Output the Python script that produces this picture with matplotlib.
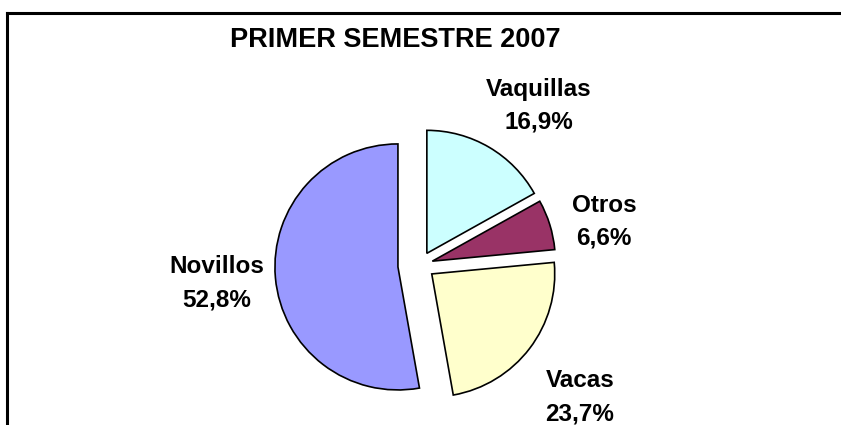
import matplotlib.pyplot as plt
from matplotlib.lines import Line2D

# data (clockwise from 12 o'clock)
categories = ["Vaquillas", "Otros", "Vacas", "Novillos"]
shares = [16.9, 6.6, 23.7, 52.8]
colors = ["#CCFFFF", "#993366", "#FFFFCC", "#9999FF"]
explode = [0.11, 0.105, 0.12, 0.18]

title = "PRIMER SEMESTRE 2007"

# figure is laid out in pixels (841 x 425 at 100 dpi)
W, H = 841, 425
cx, cy, r = 420, 265, 123
# label anchor (x centre, baseline of first line) in pixels from top-left
label_pos = {
    "Vaquillas": (539, 96),
    "Otros": (604, 212),
    "Vacas": (580, 387),
    "Novillos": (217, 273),
}
line_gap = 33

plt.rcParams["font.family"] = ["Liberation Sans", "DejaVu Sans"]

fig = plt.figure(figsize=(W / 100, H / 100), dpi=100)
ax = fig.add_axes([0, 0, 1, 1])

ax.pie(shares, colors=colors, explode=explode, startangle=90, counterclock=False,
       radius=1, center=(0, 0),
       wedgeprops=dict(edgecolor="black", linewidth=1.2))
ax.set_xlim(-cx / r, (W - cx) / r)
ax.set_ylim(-(H - cy) / r, cy / r)
ax.set_aspect("auto")
ax.axis("off")


def px(x, y):
    return x / W, 1 - y / H


for name, value in zip(categories, shares):
    x, y = label_pos[name]
    pct = f"{value:.1f}".replace(".", ",") + "%"
    fig.text(*px(x, y), name, ha="center", va="baseline", fontsize=17.5, fontweight="bold")
    fig.text(*px(x, y + line_gap), pct, ha="center", va="baseline", fontsize=17.5, fontweight="bold")

fig.text(*px(395, 47), title, ha="center", va="baseline", fontsize=19.5, fontweight="bold")

# chart frame: only top and left edges are visible in the crop
fig.add_artist(Line2D([7 / W, 1], [1 - 12.5 / H, 1 - 12.5 / H], transform=fig.transFigure,
                      color="black", linewidth=2.2))
fig.add_artist(Line2D([7 / W, 7 / W], [0, 1 - 12.5 / H], transform=fig.transFigure,
                      color="black", linewidth=2.2))

fig.savefig("out.png", dpi=100)
